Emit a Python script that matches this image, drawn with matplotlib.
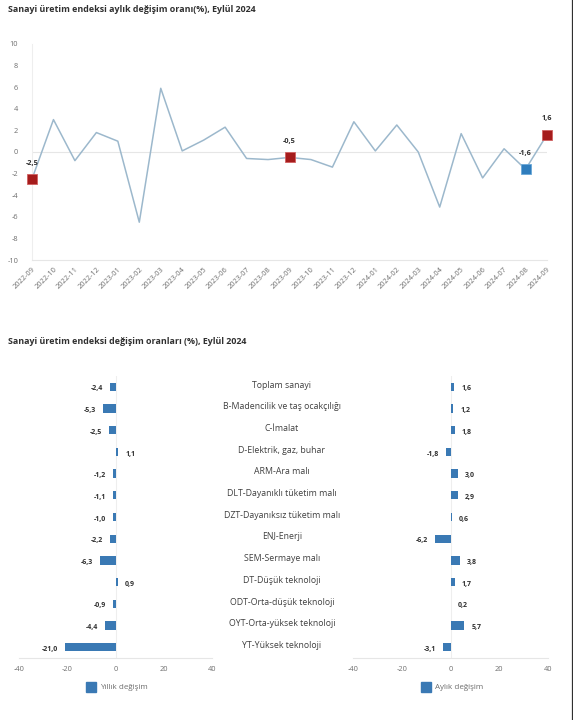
import matplotlib
matplotlib.use("Agg")
import matplotlib.pyplot as plt
from matplotlib.lines import Line2D
import matplotlib.transforms as mtransforms

plt.rcParams['font.family'] = ['Open Sans', 'DejaVu Sans']
plt.rcParams['axes.unicode_minus'] = False

# ---------------- data ----------------
months = ["2022-09", "2022-10", "2022-11", "2022-12", "2023-01", "2023-02", "2023-03",
          "2023-04", "2023-05", "2023-06", "2023-07", "2023-08", "2023-09", "2023-10",
          "2023-11", "2023-12", "2024-01", "2024-02", "2024-03", "2024-04", "2024-05",
          "2024-06", "2024-07", "2024-08", "2024-09"]
monthly_change = [-2.5, 3.0, -0.8, 1.8, 1.0, -6.5, 5.9, 0.1, 1.1, 2.3, -0.6, -0.7, -0.5,
                  -0.7, -1.4, 2.8, 0.1, 2.5, 0.0, -5.1, 1.7, -2.4, 0.3, -1.6, 1.6]
red_marked = ["2022-09", "2023-09", "2024-09"]
blue_marked = ["2024-08"]

categories = ["Toplam sanayi", "B-Madencilik ve taş ocakçılığı", "C-İmalat",
              "D-Elektrik, gaz, buhar", "ARM-Ara malı", "DLT-Dayanıklı tüketim malı",
              "DZT-Dayanıksız tüketim malı", "ENJ-Enerji", "SEM-Sermaye malı",
              "DT-Düşük teknoloji", "ODT-Orta-düşük teknoloji", "OYT-Orta-yüksek teknoloji",
              "YT-Yüksek teknoloji"]
annual = [-2.4, -5.3, -2.5, 1.1, -1.2, -1.1, -1.0, -2.2, -6.3, 0.9, -0.9, -4.4, -21.0]
monthly = [1.6, 1.2, 1.8, -1.8, 3.0, 2.9, 0.6, -6.2, 3.8, 1.7, 0.2, 5.7, -3.1]

title_top = "Sanayi üretim endeksi aylık değişim oranı(%), Eylül 2024"
title_bottom = "Sanayi üretim endeksi değişim oranları (%), Eylül 2024"
legend_annual = "Yıllık değişim"
legend_monthly = "Aylık değişim"

# ---------------- style ----------------
LINE_C = "#9cb8cc"
RED = "#a51c1c"
BLUE = "#2f7dbd"
BAR_C = "#3a79b4"
GRID_C = "#e6e6e6"
TICK_C = "#6e6e6e"
TXT_C = "#404040"

def fmt(v):
    return f"{v:.1f}".replace(".", ",")

W, H = 573, 720
fig = plt.figure(figsize=(W / 100, H / 100), dpi=100)

def ax_at(x0, y0, x1, y1):
    return fig.add_axes([x0 / W, 1 - y1 / H, (x1 - x0) / W, (y1 - y0) / H])

# ---------------- top line chart ----------------
ax = ax_at(32, 44, 547, 260)
xs = list(range(len(months)))
ax.plot(xs, monthly_change, color=LINE_C, lw=1.1, zorder=2)

def mark(m, col, edge):
    i = months.index(m)
    ax.plot(i, monthly_change[i], marker="s", ms=7.5, color=col, mec=edge, mew=0.6,
            zorder=3, clip_on=False)
    ax.annotate(fmt(monthly_change[i]), (i, monthly_change[i]), xytext=(0, 9),
                textcoords="offset points", ha="center", va="bottom", fontsize=5.2,
                fontweight="bold", color="#303030", annotation_clip=False)

for m in red_marked:
    mark(m, RED, "#d06060")
for m in blue_marked:
    mark(m, BLUE, "#6aa8d8")

ax.axhline(0, color=GRID_C, lw=0.8, zorder=1)
ax.set_xlim(0, len(months) - 1)
ax.set_ylim(-10, 10)
ax.set_yticks(range(-10, 11, 2))
ax.set_xticks(xs)
ax.set_xticklabels(months, rotation=45, ha="right", va="top", rotation_mode="anchor")
ax.tick_params(axis="both", length=0, labelsize=5.3, labelcolor=TICK_C)
ax.tick_params(axis="y", pad=10)
ax.tick_params(axis="x", pad=4)
for s in ["top", "right"]:
    ax.spines[s].set_visible(False)
ax.spines["left"].set_color("#eeeeee")
ax.spines["left"].set_linewidth(0.8)
ax.spines["bottom"].set_color(GRID_C)
ax.spines["bottom"].set_linewidth(0.8)

fig.text(8 / W, 1 - 10 / H, title_top, fontsize=6.4, fontweight="bold", color="#303030",
         va="center", ha="left")

# ---------------- bottom bar charts ----------------
fig.text(8 / W, 1 - 342 / H, title_bottom, fontsize=6.4, fontweight="bold", color="#303030",
         va="center", ha="left")

axL = ax_at(19, 376, 212, 658)
axR = ax_at(353, 376, 548, 658)
ys = list(range(len(categories)))

def bar_panel(a, vals, label):
    a.barh(ys, vals, height=0.38, color=BAR_C, zorder=2)
    for y, v in zip(ys, vals):
        off = -5 if v < 0 else 5
        a.annotate(fmt(v), (v, y), xytext=(off, -1.5), textcoords="offset points",
                   ha="right" if v < 0 else "left", va="center", fontsize=5.0,
                   fontweight="bold", color="#303030")
    a.set_xlim(-40, 40)
    a.set_ylim(len(categories) - 0.5, -0.5)
    a.set_xticks([-40, -20, 0, 20, 40])
    a.set_yticks([])
    a.axvline(0, color="#eeeeee", lw=0.8, zorder=1)
    a.tick_params(axis="x", length=0, labelsize=5.3, labelcolor=TICK_C, pad=6)
    for s in ["top", "right", "left"]:
        a.spines[s].set_visible(False)
    a.spines["bottom"].set_color(GRID_C)
    a.spines["bottom"].set_linewidth(0.8)
    h = Line2D([], [], marker="s", ls="none", ms=7, color=BAR_C)
    a.legend([h], [label], loc="upper center", bbox_to_anchor=(0.5, -0.08), frameon=False,
             fontsize=5.8, labelcolor=TICK_C, handletextpad=0.2, borderaxespad=0)

bar_panel(axL, annual, legend_annual)
bar_panel(axR, monthly, legend_monthly)

trans = mtransforms.blended_transform_factory(fig.transFigure, axL.transData)
for y, c in zip(ys, categories):
    axL.text(282 / W, y - 0.08, c, transform=trans, ha="center", va="center", fontsize=6.3,
             color=TXT_C, clip_on=False)

# right border line
fig.add_artist(Line2D([0.9985, 0.9985], [0, 1], transform=fig.transFigure,
                      color="#303030", lw=0.9))

fig.savefig("out.png", dpi=100, facecolor="white")
